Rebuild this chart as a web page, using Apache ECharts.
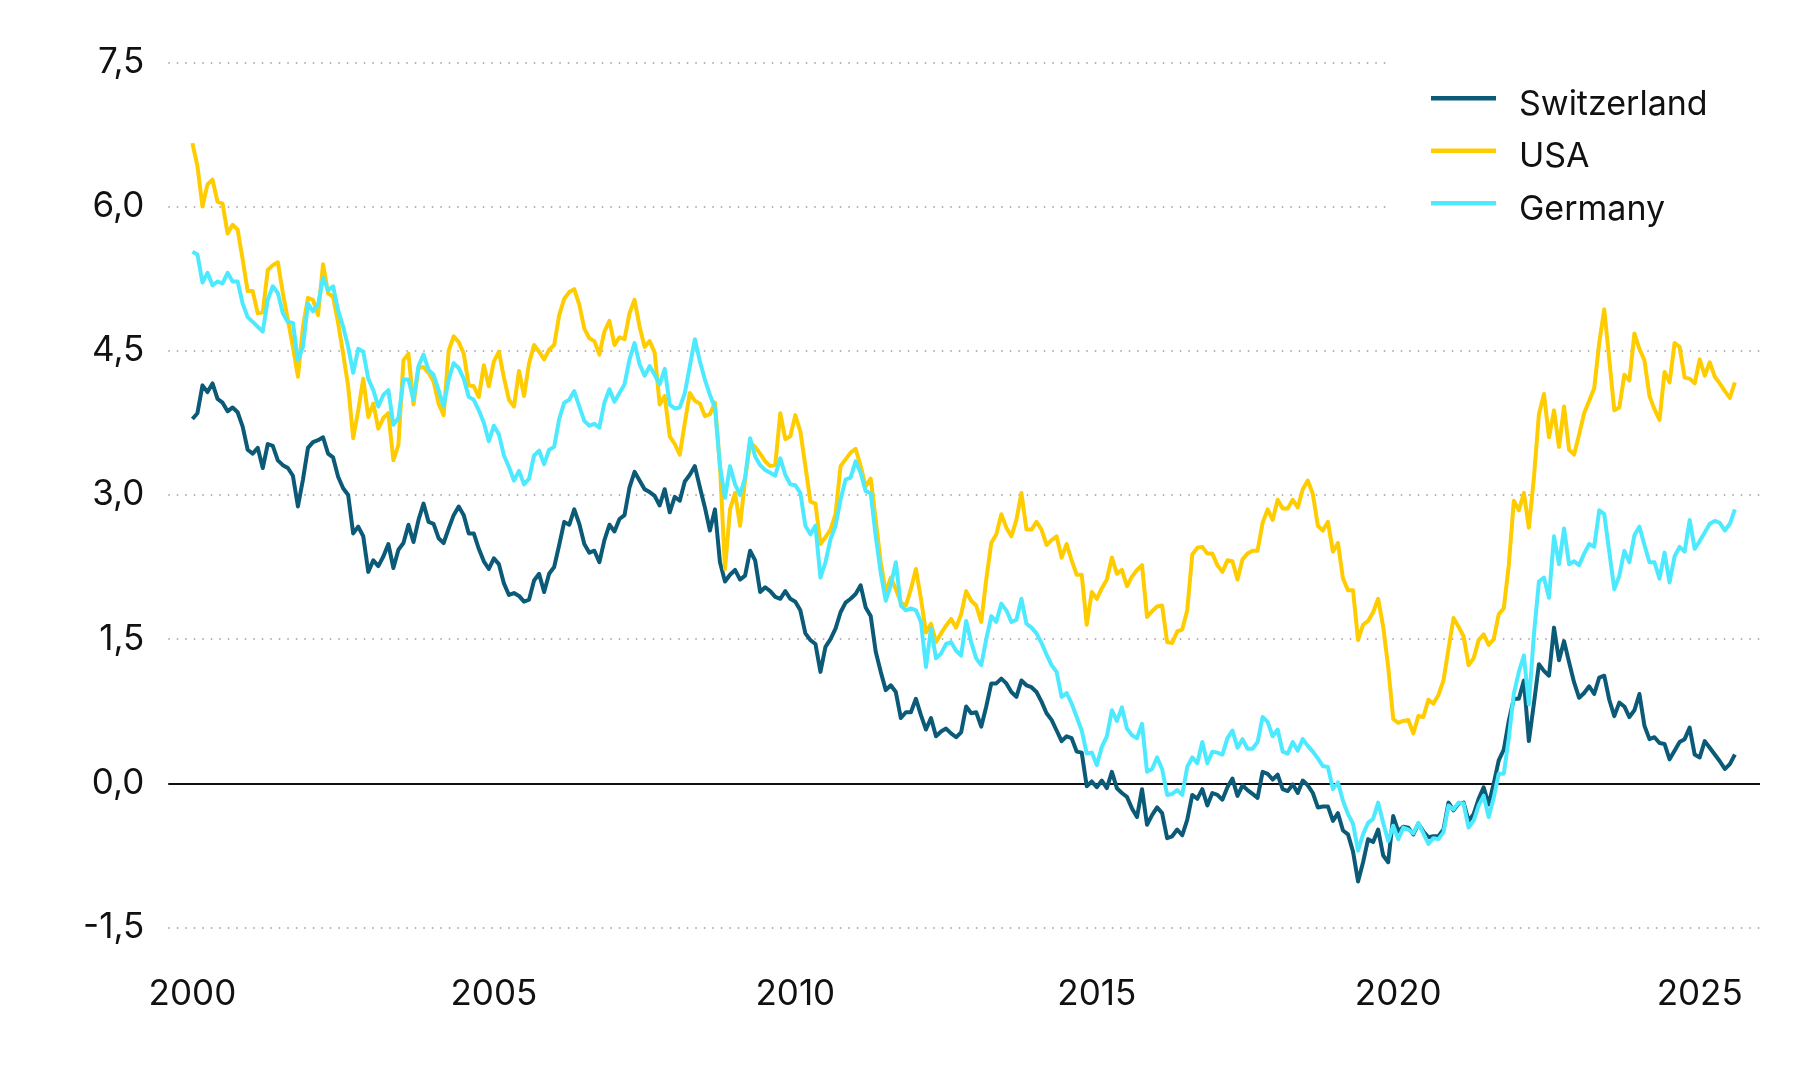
<!DOCTYPE html>
<html>
<head>
<meta charset="utf-8">
<script src="https://cdn.jsdelivr.net/npm/echarts@6/dist/echarts.min.js"></script>
<style>
  html, body { margin: 0; padding: 0; background: #ffffff; }
  #chart { width: 1800px; height: 1080px; }
</style>
</head>
<body>
<div id="chart"></div>
<script>
// Monthly 10-year government bond yields, Jan 2000 onwards (one value per month)
const startYear = 2000;
const seriesNames = ['Switzerland', 'USA', 'Germany'];
const xTickYears = [2000, 2005, 2010, 2015, 2020, 2025];

const switzerland = [
3.79,3.85,4.14,4.07,4.16,4.0,3.96,3.87,3.91,3.86,
3.71,3.47,3.43,3.49,3.28,3.53,3.51,3.36,3.31,3.28,
3.2,2.88,3.16,3.49,3.55,3.57,3.6,3.43,3.39,3.19,
3.07,3.0,2.6,2.67,2.57,2.2,2.32,2.26,2.36,2.49,
2.24,2.43,2.5,2.69,2.51,2.74,2.91,2.72,2.7,2.55,
2.5,2.65,2.79,2.88,2.79,2.6,2.6,2.44,2.31,2.23,
2.34,2.28,2.08,1.96,1.98,1.95,1.89,1.91,2.11,2.18,
1.99,2.18,2.25,2.48,2.72,2.69,2.85,2.7,2.49,2.4,
2.42,2.3,2.53,2.69,2.62,2.75,2.79,3.08,3.24,3.15,
3.06,3.03,2.99,2.89,3.06,2.82,2.98,2.94,3.14,3.21,
3.3,3.08,2.87,2.63,2.85,2.3,2.1,2.17,2.22,2.12,
2.16,2.42,2.32,1.99,2.04,2.0,1.94,1.92,2.0,1.92,
1.89,1.8,1.56,1.49,1.45,1.16,1.42,1.5,1.61,1.78,
1.88,1.92,1.97,2.06,1.83,1.74,1.37,1.16,0.97,1.02,
0.95,0.68,0.74,0.74,0.88,0.71,0.56,0.68,0.49,0.54,
0.57,0.52,0.48,0.53,0.8,0.73,0.74,0.59,0.8,1.04,
1.04,1.09,1.04,0.95,0.9,1.07,1.02,1.0,0.95,0.85,
0.73,0.66,0.55,0.44,0.49,0.47,0.33,0.32,-0.03,0.02,
-0.04,0.03,-0.05,0.12,-0.05,-0.1,-0.14,-0.26,-0.35,-0.06,
-0.43,-0.33,-0.25,-0.31,-0.57,-0.55,-0.48,-0.54,-0.38,-0.12,
-0.16,-0.06,-0.23,-0.1,-0.12,-0.17,-0.04,0.05,-0.13,-0.02,
-0.07,-0.11,-0.15,0.12,0.1,0.04,0.09,-0.06,-0.08,-0.01,
-0.1,0.03,-0.02,-0.1,-0.25,-0.24,-0.24,-0.39,-0.31,-0.49,
-0.53,-0.71,-1.02,-0.82,-0.58,-0.61,-0.48,-0.75,-0.82,-0.34,
-0.5,-0.45,-0.46,-0.53,-0.42,-0.5,-0.56,-0.55,-0.55,-0.48,
-0.2,-0.28,-0.21,-0.2,-0.39,-0.32,-0.16,-0.04,-0.22,0.0,
0.24,0.35,0.65,0.88,0.88,1.07,0.44,0.83,1.24,1.17,
1.12,1.62,1.28,1.48,1.26,1.05,0.89,0.94,1.01,0.93,
1.1,1.12,0.87,0.7,0.84,0.8,0.69,0.76,0.93,0.6,
0.46,0.48,0.42,0.41,0.25,0.34,0.43,0.46,0.58,0.3,
0.27,0.44,0.37,0.3,0.23,0.15,0.2,0.3
];

const usa = [
6.66,6.42,6.0,6.23,6.28,6.05,6.03,5.72,5.81,5.76,
5.45,5.12,5.12,4.89,4.9,5.34,5.39,5.42,5.1,4.82,
4.54,4.23,4.75,5.05,5.03,4.87,5.4,5.1,5.06,4.79,
4.47,4.13,3.59,3.88,4.21,3.81,3.95,3.69,3.8,3.85,
3.36,3.52,4.4,4.47,3.94,4.32,4.33,4.27,4.18,3.95,
3.83,4.5,4.65,4.59,4.47,4.14,4.13,4.02,4.35,4.13,
4.39,4.49,4.22,3.99,3.92,4.29,4.03,4.37,4.56,4.49,
4.41,4.51,4.56,4.87,5.04,5.11,5.14,4.98,4.73,4.63,
4.6,4.46,4.7,4.81,4.56,4.64,4.62,4.89,5.03,4.75,
4.54,4.6,4.48,3.94,4.03,3.61,3.53,3.42,3.75,4.06,
3.98,3.95,3.82,3.84,3.96,3.3,2.23,2.85,3.02,2.68,
3.16,3.54,3.5,3.43,3.35,3.3,3.31,3.85,3.58,3.61,
3.83,3.66,3.3,2.93,2.91,2.49,2.56,2.64,2.8,3.3,
3.37,3.44,3.48,3.3,3.09,3.17,2.74,2.3,1.99,2.14,
2.02,1.88,1.85,2.02,2.23,1.92,1.57,1.66,1.47,1.56,
1.64,1.71,1.62,1.76,2.0,1.9,1.85,1.68,2.12,2.5,
2.59,2.8,2.66,2.57,2.74,3.02,2.64,2.64,2.72,2.64,
2.48,2.53,2.57,2.35,2.49,2.32,2.17,2.17,1.65,1.99,
1.92,2.03,2.12,2.35,2.18,2.22,2.05,2.15,2.22,2.27,
1.73,1.79,1.84,1.85,1.47,1.46,1.58,1.6,1.8,2.38,
2.45,2.46,2.39,2.39,2.27,2.2,2.32,2.31,2.12,2.33,
2.39,2.42,2.42,2.71,2.85,2.74,2.95,2.86,2.86,2.95,
2.87,3.06,3.15,3.01,2.68,2.63,2.72,2.41,2.5,2.13,
2.01,2.01,1.49,1.65,1.69,1.78,1.92,1.63,1.21,0.67,
0.63,0.65,0.66,0.52,0.7,0.69,0.87,0.83,0.92,1.07,
1.4,1.72,1.63,1.53,1.23,1.3,1.49,1.55,1.44,1.5,
1.76,1.82,2.27,2.94,2.84,3.02,2.66,3.18,3.84,4.05,
3.6,3.88,3.5,3.92,3.47,3.42,3.63,3.85,3.98,4.11,
4.58,4.93,4.41,3.88,3.91,4.25,4.19,4.68,4.52,4.4,
4.03,3.89,3.78,4.28,4.17,4.58,4.54,4.22,4.21,4.16,
4.41,4.24,4.38,4.23,4.16,4.08,4.01,4.17
];

const germany = [
5.53,5.5,5.21,5.31,5.18,5.22,5.2,5.31,5.22,5.22,
4.99,4.85,4.8,4.75,4.7,5.03,5.17,5.1,4.89,4.8,
4.79,4.4,4.54,4.99,4.91,4.98,5.26,5.13,5.17,4.92,
4.75,4.54,4.27,4.52,4.49,4.21,4.09,3.92,4.04,4.09,
3.73,3.8,4.2,4.2,3.99,4.34,4.46,4.3,4.25,4.09,
3.92,4.2,4.37,4.32,4.21,4.02,3.99,3.88,3.75,3.56,
3.72,3.63,3.41,3.29,3.15,3.25,3.11,3.17,3.41,3.46,
3.32,3.47,3.5,3.79,3.96,3.99,4.08,3.92,3.77,3.72,
3.74,3.7,3.96,4.1,3.97,4.06,4.15,4.41,4.58,4.36,
4.24,4.34,4.25,4.15,4.31,3.94,3.9,3.91,4.06,4.34,
4.62,4.39,4.2,4.04,3.91,3.3,2.97,3.3,3.11,3.0,
3.18,3.59,3.4,3.31,3.26,3.23,3.2,3.38,3.21,3.11,
3.1,3.02,2.68,2.59,2.68,2.14,2.3,2.54,2.68,2.95,
3.16,3.18,3.35,3.23,3.04,3.02,2.57,2.19,1.9,2.06,
2.3,1.85,1.8,1.82,1.8,1.68,1.21,1.61,1.3,1.35,
1.45,1.47,1.38,1.33,1.69,1.47,1.3,1.23,1.5,1.74,
1.68,1.87,1.8,1.68,1.7,1.92,1.66,1.62,1.56,1.46,
1.34,1.23,1.16,0.9,0.94,0.83,0.69,0.55,0.31,0.32,
0.19,0.38,0.49,0.76,0.65,0.79,0.57,0.5,0.47,0.62,
0.12,0.15,0.27,0.15,-0.12,-0.11,-0.07,-0.12,0.17,0.27,
0.21,0.43,0.21,0.33,0.32,0.3,0.47,0.55,0.37,0.46,
0.36,0.36,0.43,0.69,0.64,0.49,0.56,0.33,0.31,0.43,
0.34,0.46,0.39,0.33,0.26,0.18,0.17,-0.06,0.01,-0.18,
-0.32,-0.42,-0.7,-0.53,-0.41,-0.37,-0.2,-0.41,-0.6,-0.44,
-0.58,-0.46,-0.48,-0.52,-0.41,-0.52,-0.63,-0.57,-0.58,-0.51,
-0.23,-0.27,-0.2,-0.21,-0.46,-0.39,-0.23,-0.13,-0.35,-0.15,
0.1,0.1,0.47,0.93,1.16,1.33,0.82,1.55,2.1,2.14,
1.93,2.57,2.28,2.65,2.28,2.31,2.27,2.39,2.49,2.46,
2.84,2.8,2.41,2.02,2.16,2.42,2.3,2.58,2.67,2.48,
2.3,2.3,2.13,2.4,2.09,2.36,2.46,2.41,2.74,2.44,
2.52,2.61,2.7,2.73,2.71,2.63,2.7,2.85
];

const colors = { Switzerland: '#0b5a78', USA: '#ffcc00', Germany: '#4deaff' };
const FONT = 'Inter, "Noto Sans", "DejaVu Sans", sans-serif';
// legend key: a 65 x 4.5 bar sitting at the top of a 16.9 px tall icon box
const LEGEND_ICON = 'path://M0,0L65,0L65,4.5L0,4.5Z M0,16.9L0,16.9';

function toPairs(arr) {
  return arr.map((v, i) => [startYear + i / 12, v]);
}
const seriesValues = { Switzerland: switzerland, USA: usa, Germany: germany };

const chart = echarts.init(document.getElementById('chart'), null, { renderer: 'canvas' });

const series = seriesNames.map((name, idx) => {
  const s = {
    name: name,
    type: 'line',
    data: toPairs(seriesValues[name]),
    symbol: 'none',
    showSymbol: false,
    lineStyle: { width: 4, color: colors[name], join: 'round' },
    itemStyle: { color: colors[name] },
    emphasis: { disabled: true },
    animation: false,
    z: 3 + idx
  };
  if (idx === 0) {
    s.markLine = {
      silent: true,
      symbol: 'none',
      label: { show: false },
      lineStyle: { color: '#111111', width: 2, type: 'solid' },
      data: [{ yAxis: 0 }],
      animation: false,
      z: 2
    };
  }
  return s;
});

const option = {
  backgroundColor: '#ffffff',
  animation: false,
  grid: { left: 168.3, right: 40, top: 62.3, bottom: 152.4, containLabel: false },
  legend: {
    data: seriesNames,
    orient: 'vertical',
    left: 1387,
    top: 55,
    padding: [32.5, 90, 8, 44],
    backgroundColor: '#ffffff',
    icon: LEGEND_ICON,
    itemWidth: 65,
    itemHeight: 16.9,
    itemGap: 18.5,
    selectedMode: false,
    textStyle: { fontSize: 34, lineHeight: 34, color: '#111111', fontFamily: FONT, padding: [0, 0, 0, 18] }
  },
  xAxis: {
    type: 'value',
    min: 1999.6,
    max: 2026.0,
    axisLine: { show: false },
    axisTick: { show: false },
    splitLine: { show: false },
    axisLabel: {
      customValues: xTickYears,
      formatter: v => String(Math.round(v)),
      fontSize: 35,
      color: '#111111',
      fontFamily: FONT,
      margin: 49
    }
  },
  yAxis: {
    type: 'value',
    min: -1.5,
    max: 7.5,
    interval: 1.5,
    axisLine: { show: false },
    axisTick: { show: false },
    splitLine: { show: true, lineStyle: { color: '#9a9a9a', width: 1.5, type: [1.5, 7] } },
    axisLabel: {
      formatter: v => v.toFixed(1).replace('.', ','),
      fontSize: 35,
      color: '#111111',
      fontFamily: FONT,
      margin: 24
    }
  },
  series: series
};

chart.setOption(option);
</script>
</body>
</html>
